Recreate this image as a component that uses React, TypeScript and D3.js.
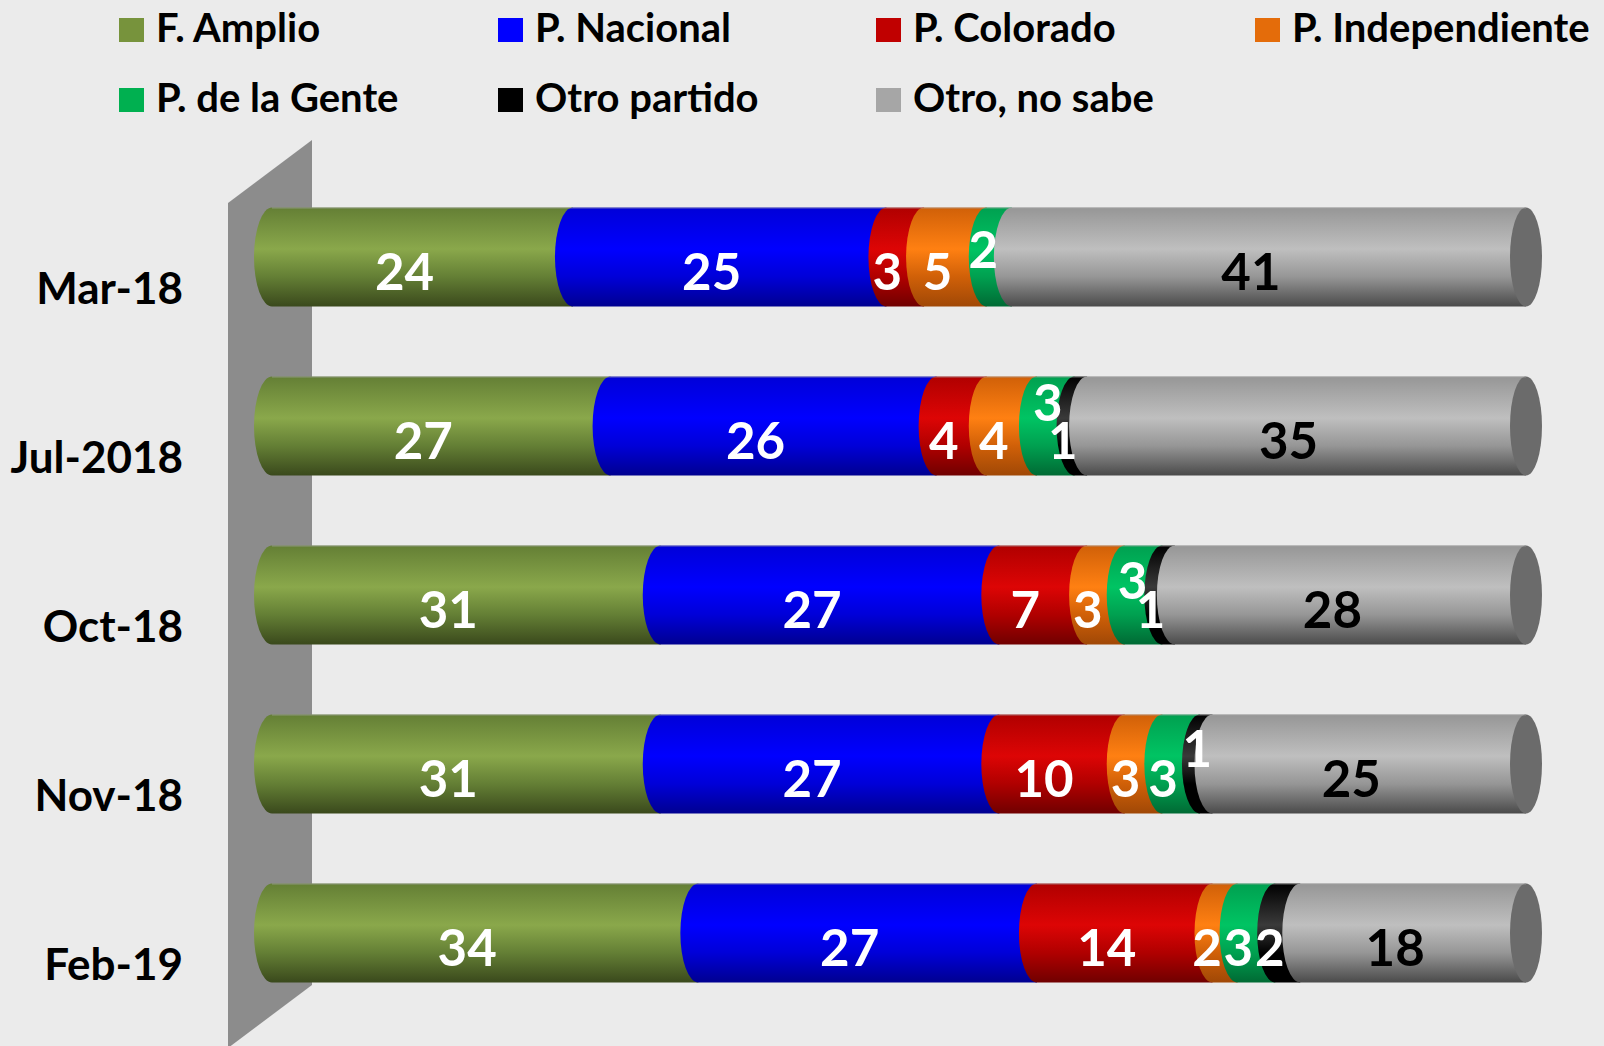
import React from "react";
import * as d3 from "d3";

// ---- Data ----
const categories = ["Mar-18", "Jul-2018", "Oct-18", "Nov-18", "Feb-19"];
const seriesNames = [
  "F. Amplio",
  "P. Nacional",
  "P. Colorado",
  "P. Independiente",
  "P. de la Gente",
  "Otro partido",
  "Otro, no sabe",
];
const fAmplio = [24, 27, 31, 31, 34];
const pNacional = [25, 26, 27, 27, 27];
const pColorado = [3, 4, 7, 10, 14];
const pIndependiente = [5, 4, 3, 3, 2];
const pGente = [2, 3, 3, 3, 3];
const otroPartido = [0, 1, 1, 1, 2];
const otroNoSabe = [41, 35, 28, 25, 18];
const seriesValues = [fAmplio, pNacional, pColorado, pIndependiente, pGente, otroPartido, otroNoSabe];

// ---- Styles ----
const legendColors = ["#77933c", "#0000ff", "#c00000", "#e46c0a", "#00b050", "#000000", "#a6a6a6"];
// top, highlight, bottom gradient stops for the cylinders
const cylColors: [string, string, string][] = [
  ["#647f35", "#8aa84b", "#3a491c"],
  ["#0000d8", "#0000ff", "#000090"],
  ["#b00000", "#dd0505", "#700000"],
  ["#d06008", "#ff8012", "#a04806"],
  ["#00a050", "#00c463", "#006a34"],
  ["#000000", "#3a3a3a", "#000000"],
  ["#969696", "#bfbfbf", "#4a4a4a"],
];
const labelColors = ["#fff", "#fff", "#fff", "#fff", "#fff", "#fff", "#000"];

// label collision nudges (Excel placed these labels away from neighbours)
const labelNudge: Record<string, [number, number]> = {
  "Mar-18|4": [2, -22],
  "Jul-2018|4": [10, -38],
  "Oct-18|4": [7, -29],
  "Nov-18|5": [9, -30],
};

const W = 1604;
const H = 1046;
const FONT = "Lato, 'Open Sans', sans-serif";

export default function App() {
  const x = d3.scaleLinear().domain([0, 100]).range([272, 1526]);
  const y = d3.scalePoint<string>().domain(categories).range([257, 933]);
  const barH = 99;
  const capRx = 18;
  const endRx = 16;

  const table = categories.map((c, i) => {
    const row: Record<string, number | string> = { cat: c };
    seriesNames.forEach((s, j) => (row[s] = seriesValues[j][i]));
    return row;
  });
  const stack = d3.stack<Record<string, number | string>>().keys(seriesNames)(table as any);

  const legendCols = [119, 498, 876, 1255];
  const legendRows = [42, 112];

  return (
    <svg
      width={W}
      height={H}
      style={{ position: "absolute", left: 0, top: 0, display: "block" }}
      fontFamily={FONT}
    >
      <defs>
        {cylColors.map((c, j) => (
          <linearGradient key={j} id={`g${j}`} x1="0" y1="0" x2="0" y2="1">
            <stop offset="0" stopColor={c[0]} />
            <stop offset="0.42" stopColor={c[1]} />
            <stop offset="0.7" stopColor={c[0]} />
            <stop offset="1" stopColor={c[2]} />
          </linearGradient>
        ))}
      </defs>
      <rect x={0} y={0} width={W} height={H} fill="#ebebeb" />

      {/* wall */}
      <path d="M228,203 L312,140 L312,985 L228,1048 Z" fill="#8c8c8c" />

      {/* legend */}
      {seriesNames.map((s, j) => {
        const col = j % 4;
        const row = Math.floor(j / 4);
        const lx = legendCols[col];
        const ly = legendRows[row];
        return (
          <g key={s}>
            <rect x={lx} y={ly - 24} width={25} height={24} fill={legendColors[j]} />
            <text x={lx + 37} y={ly} fontSize={40} fontWeight={700} fill="#000">
              {s}
            </text>
          </g>
        );
      })}

      {/* category labels */}
      {categories.map((c) => (
        <text
          key={c}
          x={183}
          y={(y(c) as number) + 47}
          textAnchor="end"
          fontSize={44}
          fontWeight={700}
          fill="#000"
        >
          {c}
        </text>
      ))}

      {/* cylinders */}
      {categories.map((c, i) => {
        const cy = y(c) as number;
        const top = cy - barH / 2;
        const bot = cy + barH / 2;
        return (
          <g key={c}>
            {stack.map((layer, j) => {
              const [v0, v1] = layer[i];
              if (v1 - v0 <= 0) return null;
              const x0 = x(v0);
              const x1 = x(v1);
              const d = `M${x0},${top} L${x1},${top} L${x1},${bot} L${x0},${bot} A${capRx},${barH / 2} 0 0 1 ${x0},${top} Z`;
              return <path key={j} d={d} fill={`url(#g${j})`} />;
            })}
            <ellipse cx={x(100)} cy={cy} rx={endRx} ry={barH / 2} fill="#6b6b6b" />
            <line x1={x(0)} x2={x(100)} y1={top + 0.5} y2={top + 0.5} stroke="#a8a8a8" strokeOpacity={0.6} strokeWidth={1} />
          </g>
        );
      })}

      {/* value labels */}
      {categories.map((c, i) => {
        const cy = y(c) as number;
        return (
          <g key={c}>
            {stack.map((layer, j) => {
              const [v0, v1] = layer[i];
              const v = v1 - v0;
              if (v <= 0) return null;
              const nudge = labelNudge[`${c}|${j}`] || [0, 0];
              return (
                <text
                  key={j}
                  x={x((v0 + v1) / 2) - 18 + nudge[0]}
                  y={cy + 33 + nudge[1]}
                  textAnchor="middle"
                  fontSize={51}
                  fontWeight={700}
                  fill={labelColors[j]}
                >
                  {v}
                </text>
              );
            })}
          </g>
        );
      })}
    </svg>
  );
}
